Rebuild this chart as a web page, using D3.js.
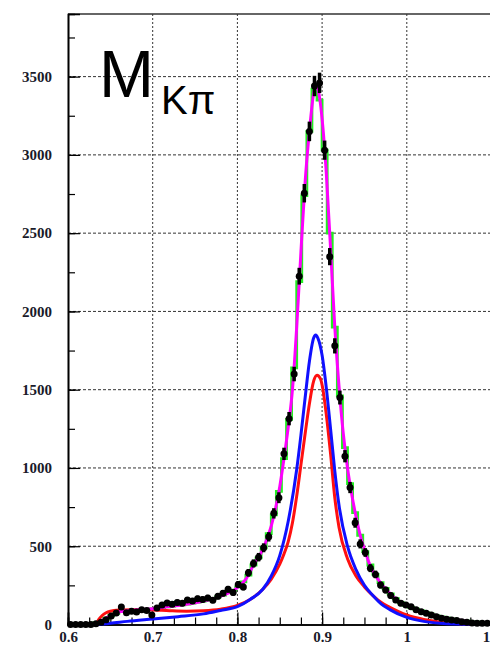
<!DOCTYPE html>
<html>
<head>
<meta charset="utf-8">
<script src="https://cdn.jsdelivr.net/npm/d3@7"></script>
<style>
body { margin: 0; background: #fff; }
svg { display: block; }
</style>
</head>
<body>
<script>
// histogram bins: 0.6 .. 1.098, width 0.006
var binLow = 0.6;
var binWidth = 0.006;
var dataCounts = [0, 0, 0, 0, 0, 5, 15, 30, 55, 73,
  112, 75, 85, 80, 95, 90, 60, 105, 125, 137,
  130, 140, 135, 156, 150, 165, 160, 170, 155, 180,
  200, 225, 205, 255, 240, 330, 390, 430, 490, 560,
  710, 810, 1090, 1315, 1600, 2225, 2755, 3150, 3440, 3460,
  3030, 2350, 1780, 1450, 1075, 875, 650, 515, 460, 360,
  320, 252, 220, 185, 156, 135, 125, 114, 95, 82,
  72, 61, 50, 40, 33, 29, 25, 18, 14, 10,
  8, 8, 8];
var greenCounts = [0, 0, 0, 0, 0, 10, 22, 40, 57, 72,
  82, 86, 89, 92, 95, 97, 100, 103, 108, 113,
  117, 121, 126, 131, 137, 143, 149, 157, 166, 176,
  188, 203, 220, 240, 272, 315, 380, 425, 490, 580,
  700, 850, 1060, 1310, 1640, 2190, 2740, 3150, 3420, 3350,
  3030, 2500, 1900, 1460, 1130, 900, 715, 570, 465, 380,
  320, 268, 230, 195, 165, 140, 122, 110, 98, 87,
  76, 66, 57, 49, 42, 36, 31, 26, 22, 18,
  15, 12, 10];

var totalX = [0.6, 0.633, 0.64, 0.65, 0.66, 0.68, 0.70, 0.72, 0.74, 0.76, 0.78, 0.80, 0.81, 0.82, 0.83, 0.84, 0.85, 0.855, 0.86, 0.865, 0.87, 0.875, 0.88, 0.885, 0.89, 0.8925, 0.895, 0.90, 0.905, 0.91, 0.915, 0.92, 0.925, 0.93, 0.935, 0.94, 0.945, 0.95, 0.955, 0.96, 0.97, 0.98, 0.99, 1.0, 1.01, 1.02, 1.03, 1.04, 1.06, 1.08, 1.1];
var totalY = [0, 0, 25, 55, 80, 92, 100, 115, 130, 150, 180, 235, 290, 390, 480, 630, 880, 1060, 1260, 1500, 1900, 2380, 2830, 3150, 3390, 3440, 3420, 3230, 2880, 2400, 1900, 1520, 1220, 1000, 830, 690, 570, 480, 400, 340, 260, 200, 150, 120, 100, 82, 65, 50, 30, 15, 8];

var blueX = [0.6, 0.633, 0.65, 0.67, 0.70, 0.73, 0.76, 0.78, 0.80, 0.815, 0.83, 0.84, 0.85, 0.86, 0.87, 0.875, 0.88, 0.885, 0.89, 0.8925, 0.895, 0.90, 0.905, 0.91, 0.915, 0.92, 0.93, 0.94, 0.95, 0.96, 0.97, 0.98, 1.0, 1.02, 1.04, 1.06, 1.08, 1.1];
var blueY = [0, 0, 8, 20, 35, 50, 68, 90, 114, 160, 225, 310, 440, 660, 990, 1210, 1450, 1680, 1830, 1849, 1830, 1720, 1510, 1250, 980, 760, 500, 350, 250, 185, 130, 95, 45, 20, 8, 3, 1, 0];

var redX = [0.6, 0.633, 0.636, 0.64, 0.645, 0.65, 0.66, 0.68, 0.70, 0.72, 0.74, 0.76, 0.78, 0.80, 0.815, 0.83, 0.84, 0.85, 0.855, 0.86, 0.865, 0.87, 0.875, 0.88, 0.885, 0.89, 0.894, 0.898, 0.90, 0.905, 0.91, 0.915, 0.92, 0.93, 0.94, 0.95, 0.96, 0.97, 0.98, 1.0, 1.02, 1.04, 1.06, 1.08, 1.1];
var redY = [0, 0, 30, 55, 75, 85, 92, 95, 93, 88, 85, 88, 98, 122, 160, 225, 290, 385, 450, 530, 650, 820, 1020, 1220, 1410, 1555, 1593, 1570, 1530, 1340, 1090, 810, 620, 420, 310, 240, 185, 140, 110, 61, 32, 15, 6, 2, 0];

var xTicks = [0.6, 0.7, 0.8, 0.9, 1, 1.1];
var yTicks = [0, 500, 1000, 1500, 2000, 2500, 3000, 3500];

var W = 490, H = 647;
var plotLeft = 68, plotTop = 14, plotBottom = 624.5;

var x = d3.scaleLinear().domain([0.6, 1.1]).range([plotLeft, plotLeft + 0.5 * 847]);
var y = d3.scaleLinear().domain([0, 3900]).range([plotBottom, plotTop]);

var svg = d3.select("body").append("svg").attr("width", W).attr("height", H);

// grid
svg.append("g").selectAll("line")
  .data(xTicks.slice(1))
  .enter().append("line")
  .attr("x1", function(d) { return x(d); }).attr("x2", function(d) { return x(d); })
  .attr("y1", plotTop).attr("y2", plotBottom)
  .attr("stroke", "#333").attr("stroke-width", 1).attr("stroke-dasharray", "2,2");
svg.append("g").selectAll("line")
  .data(yTicks.slice(1))
  .enter().append("line")
  .attr("x1", plotLeft).attr("x2", x(1.1))
  .attr("y1", function(d) { return y(d); }).attr("y2", function(d) { return y(d); })
  .attr("stroke", "#333").attr("stroke-width", 1).attr("stroke-dasharray", "3,2");

// frame top
svg.append("line").attr("x1", plotLeft).attr("x2", W).attr("y1", plotTop).attr("y2", plotTop)
  .attr("stroke", "#333").attr("stroke-width", 1.5);

// axes, ticks inside
var xAxis = d3.axisBottom(x).tickValues(xTicks).tickSize(-12).tickFormat(d3.format("~g"));
var xMinor = d3.axisBottom(x).tickValues(d3.range(0.6, 1.1001, 0.025)).tickSize(-7).tickFormat("");
var yAxis = d3.axisLeft(y).tickValues(yTicks).tickSize(-12).tickFormat(d3.format("d"));
var yMinor = d3.axisLeft(y).tickValues(d3.range(0, 3900, 250)).tickSize(-7).tickFormat("");

function styleAxis(g) {
  g.attr("font-size", 15).attr("font-family", "Liberation Serif, serif");
  g.select(".domain").attr("stroke", "#000").attr("stroke-width", 1.6);
  g.selectAll(".tick line").attr("stroke", "#000").attr("stroke-width", 1.2);
  g.selectAll("text").attr("font-weight", "bold").attr("fill", "#1a1a2a");
}
svg.append("g").attr("transform", "translate(0," + plotBottom + ")").call(xMinor).call(styleAxis);
svg.append("g").attr("transform", "translate(0," + plotBottom + ")").call(xAxis).call(styleAxis)
  .selectAll("text").attr("y", 7);
svg.append("g").attr("transform", "translate(" + plotLeft + ",0)").call(yMinor).call(styleAxis);
svg.append("g").attr("transform", "translate(" + plotLeft + ",0)").call(yAxis).call(styleAxis)
  .selectAll("text").attr("x", -16);

// green histogram
var steps = [];
greenCounts.forEach(function(d, i) {
  steps.push([binLow + i * binWidth, d]);
  steps.push([binLow + (i + 1) * binWidth, d]);
});
svg.append("path")
  .attr("d", d3.line().x(function(d) { return x(d[0]); }).y(function(d) { return y(d[1]); })(steps))
  .attr("fill", "none").attr("stroke", "#22ee22").attr("stroke-width", 2.8);

// fit curves
var curve = d3.line().curve(d3.curveMonotoneX)
  .x(function(d) { return x(d[0]); }).y(function(d) { return y(d[1]); });
function drawCurve(xs, ys, color, w) {
  svg.append("path")
    .attr("d", curve(d3.zip(xs, ys)))
    .attr("fill", "none").attr("stroke", color).attr("stroke-width", w);
}
drawCurve(redX, redY, "#ff1010", 3);
drawCurve(blueX, blueY, "#1010ff", 3);
drawCurve(totalX, totalY, "#ff00ff", 3);

// data points with errors
var pts = svg.append("g").selectAll("g")
  .data(dataCounts)
  .enter().append("g");
pts.append("line")
  .attr("x1", function(d, i) { return x(binLow + (i + 0.5) * binWidth); })
  .attr("x2", function(d, i) { return x(binLow + (i + 0.5) * binWidth); })
  .attr("y1", function(d) { return y(d + Math.sqrt(d)) - 1; })
  .attr("y2", function(d) { return y(Math.max(0, d - Math.sqrt(d))) + 1; })
  .attr("stroke", "#000").attr("stroke-width", 3.5);
pts.append("line")
  .attr("x1", function(d, i) { return x(binLow + i * binWidth); })
  .attr("x2", function(d, i) { return x(binLow + (i + 1) * binWidth); })
  .attr("y1", function(d) { return y(d); })
  .attr("y2", function(d) { return y(d); })
  .attr("stroke", "#000").attr("stroke-width", 2.2);
pts.append("circle")
  .attr("cx", function(d, i) { return x(binLow + (i + 0.5) * binWidth); })
  .attr("cy", function(d) { return y(d); })
  .attr("r", 3.5)
  .attr("fill", "#000");

// label
var label = svg.append("text")
  .attr("x", 99).attr("y", 97)
  .attr("font-family", "Liberation Sans, Arial, sans-serif")
  .attr("fill", "#000");
label.append("tspan").attr("font-size", 66).text("M");
label.append("tspan").attr("font-size", 40).attr("dy", 17).attr("dx", 7).text("Kπ");
</script>
</body>
</html>
